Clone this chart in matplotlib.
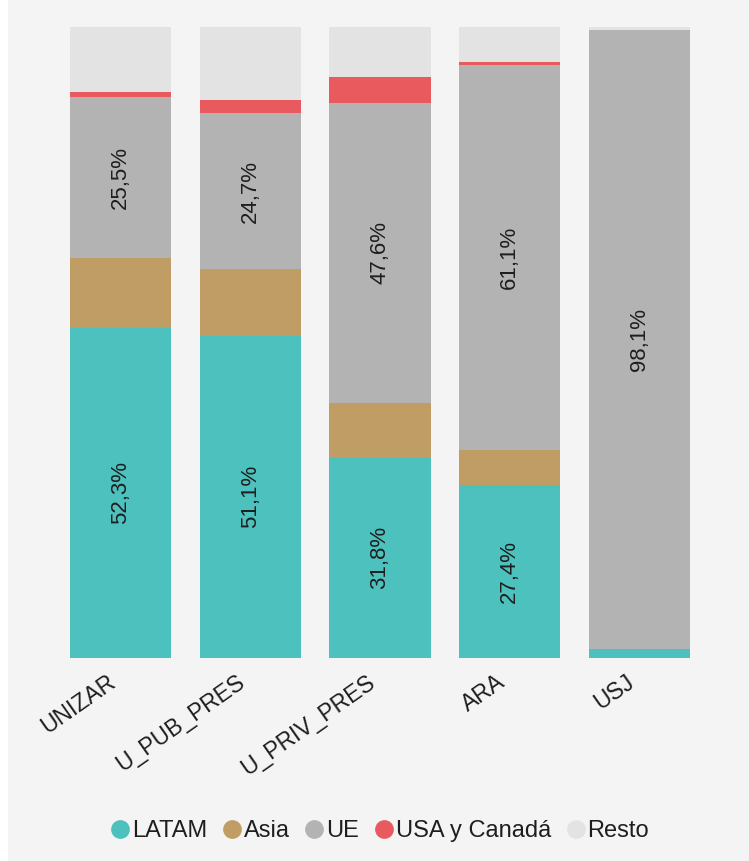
import numpy as np
import matplotlib
matplotlib.use("Agg")
import matplotlib.pyplot as plt
import matplotlib.transforms as mtransforms
from matplotlib.lines import Line2D
from matplotlib.patches import Rectangle

plt.rcParams['font.family'] = ['Liberation Sans', 'DejaVu Sans']

# datos (% por region de origen)
universidades = ['UNIZAR', 'U_PUB_PRES', 'U_PRIV_PRES', 'ARA', 'USJ']
regiones = ['LATAM', 'Asia', 'UE', 'USA y Canadá', 'Resto']
latam = [52.3, 51.1, 31.8, 27.4, 1.4]
asia = [11.1, 10.5, 8.6, 5.5, 0.0]
ue = [25.5, 24.7, 47.6, 61.1, 98.1]
usa = [0.8, 2.1, 4.1, 0.5, 0.0]
resto = [10.3, 11.6, 7.9, 5.5, 0.5]
colores = ['#4dc1bd', '#bf9d65', '#b3b3b3', '#e85a5e', '#e3e3e3']

W, H = 749, 861
fig = plt.figure(figsize=(W/100, H/100), dpi=100)
fig.patch.set_facecolor('#f4f4f4')
fig.patches.append(Rectangle((0, 0), 8/W, 1, transform=fig.transFigure,
                             facecolor='white', edgecolor='none', zorder=-1))

ax = fig.add_axes([55.6/W, (H-658)/H, 648.75/W, 631/H])
ax.set_facecolor('#f4f4f4')

x = np.arange(len(universidades))
bottom = np.zeros(len(universidades))
series = [latam, asia, ue, usa, resto]
for serie, col in zip(series, colores):
    vals = np.array(serie)
    ax.bar(x, vals, bottom=bottom, width=0.78, color=col, edgecolor='none')
    for i, v in enumerate(vals):
        if v >= 20:
            ax.text(x[i], bottom[i] + v/2, ('%.1f%%' % v).replace('.', ','),
                    rotation=90, ha='center', va='center', fontsize=16, color='#1e1e1e')
    bottom += vals

ax.set_xlim(-0.5, 4.5)
ax.set_ylim(0, 100)
for s in ax.spines.values():
    s.set_visible(False)
ax.set_yticks([])
ax.set_xticks(x)
ax.set_xticklabels(universidades, rotation=35, ha='right', rotation_mode='anchor',
                   fontsize=16.5, color='#1e1e1e')
ax.tick_params(axis='x', length=0, pad=9)
off = mtransforms.ScaledTranslation(-14/100, 0, fig.dpi_scale_trans)
for lab in ax.get_xticklabels():
    lab.set_transform(lab.get_transform() + off)

handles = [Line2D([0], [0], marker='o', linestyle='none', markersize=13.5,
                  markerfacecolor=c, markeredgecolor='none') for c in colores]
fig.legend(handles, regiones, loc='center', bbox_to_anchor=(378/W, (H-831)/H),
           ncol=5, frameon=False, fontsize=17, handletextpad=-0.05,
           columnspacing=0.5, handlelength=1.1, labelcolor='#1e1e1e')

fig.savefig('out.png', dpi=100, facecolor=fig.get_facecolor())
